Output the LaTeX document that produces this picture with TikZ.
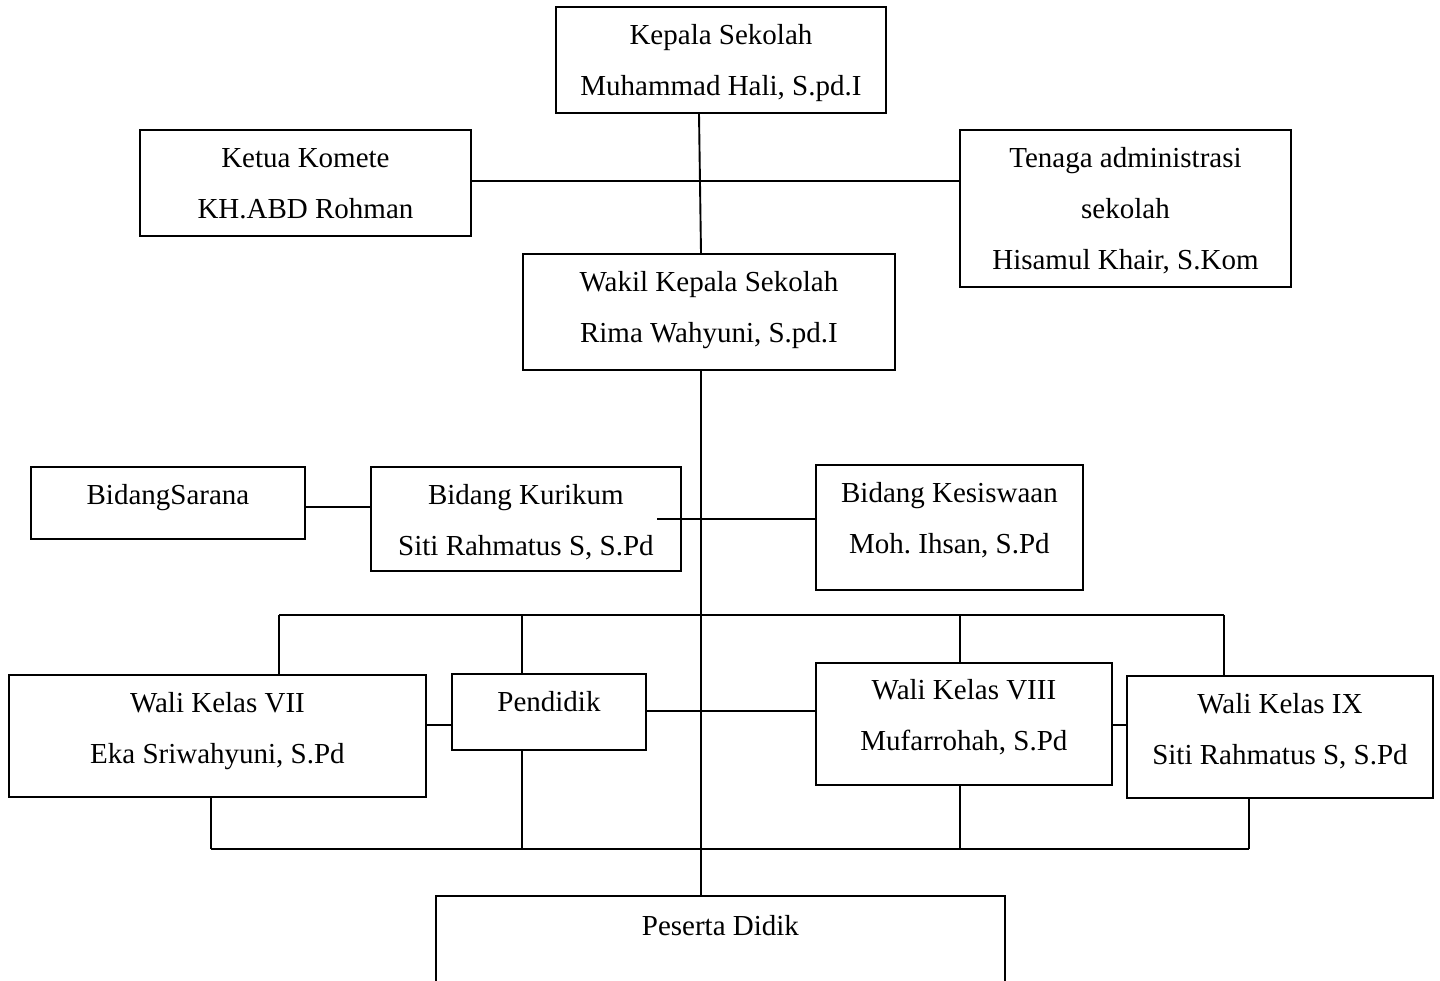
\documentclass[tikz,border=0pt]{standalone}
\usepackage{fontspec}
\setmainfont{Liberation Serif}
\frenchspacing
\newcommand\boxtext[4][38]{\parbox[c][#3pt][t]{#2pt}{\centering\rule{0pt}{#1pt}#4}}
\tikzset{
  orgbox/.style={draw, line width=1.9pt, inner sep=0pt, anchor=north west, font=\fontsize{29}{51}\selectfont},
  link/.style={line width=1.9pt}
}
\begin{document}
\begin{tikzpicture}[x=1pt,y=-1pt]
\useasboundingbox (0,0) rectangle (1440,981);
\clip (0,0) rectangle (1440,981);
\fill[white] (0,0) rectangle (1440,981);

% boxes
\node[orgbox] (kepala) at (555,6) {\boxtext{330}{106}{Kepala Sekolah\\Muhammad Hali, S.pd.I}};
\node[orgbox] (ketua) at (139,129) {\boxtext{331}{106}{Ketua Komete\\KH.ABD Rohman}};
\node[orgbox] (tenaga) at (959,129) {\boxtext{331}{157}{Tenaga administrasi\\sekolah\\Hisamul Khair, S.Kom}};
\node[orgbox] (wakil) at (522,253) {\boxtext{372}{116}{Wakil Kepala Sekolah\\Rima Wahyuni, S.pd.I}};
\node[orgbox] (sarana) at (30,466) {\boxtext{274}{72}{BidangSarana}};
\node[orgbox] (kurikum) at (370,466) {\boxtext{310}{104}{Bidang Kurikum\\Siti Rahmatus S, S.Pd}};
\node[orgbox] (kesiswaan) at (815,464) {\boxtext{267}{125}{Bidang Kesiswaan\\Moh. Ihsan, S.Pd}};
\node[orgbox] (wali7) at (8,674) {\boxtext{417}{122}{Wali Kelas VII\\Eka Sriwahyuni, S.Pd}};
\node[orgbox] (pendidik) at (451,673) {\boxtext{194}{76}{Pendidik}};
\node[orgbox] (wali8) at (815,662) {\boxtext[37]{296}{122}{Wali Kelas VIII\\Mufarrohah, S.Pd}};
\node[orgbox] (wali9) at (1126,675) {\boxtext{306}{122}{Wali Kelas IX\\Siti Rahmatus S, S.Pd}};
\node[orgbox] (peserta) at (435,895) {\boxtext[40]{569}{130}{Peserta Didik}};

% spine
\draw[link] (kepala.south -| 699,0) -- (wakil.north -| 701,0);
\draw[link] (ketua.east |- 0,181) -- (tenaga.west |- 0,181);
\draw[link] (wakil.south -| 701,0) -- (peserta.north -| 701,0);

% bidang row
\draw[link] (sarana.east |- 0,507) -- (kurikum.west |- 0,507);
\coordinate (kurstub) at (657,519);
\draw[link] (kurstub) -- (kurstub -| kesiswaan.west);

% top bus
\coordinate (t7) at (279,615);
\coordinate (tp) at (522,615);
\coordinate (t8) at (960,615);
\coordinate (t9) at (1224,615);
\draw[link] (t7) -- (t9);
\draw[link] (t7) -- (t7 |- wali7.north);
\draw[link] (tp) -- (tp |- pendidik.north);
\draw[link] (t8) -- (t8 |- wali8.north);
\draw[link] (t9) -- (t9 |- wali9.north);

% side links
\draw[link] (wali7.east |- 0,725) -- (pendidik.west |- 0,725);
\draw[link] (pendidik.east |- 0,711) -- (wali8.west |- 0,711);
\draw[link] (wali8.east |- 0,725) -- (wali9.west |- 0,725);

% bottom bus
\coordinate (b7) at (211,849);
\coordinate (bp) at (522,849);
\coordinate (b8) at (960,849);
\coordinate (b9) at (1249,849);
\draw[link] (b7) -- (b9);
\draw[link] (b7) -- (b7 |- wali7.south);
\draw[link] (bp) -- (bp |- pendidik.south);
\draw[link] (b8) -- (b8 |- wali8.south);
\draw[link] (b9) -- (b9 |- wali9.south);
\end{tikzpicture}
\end{document}
